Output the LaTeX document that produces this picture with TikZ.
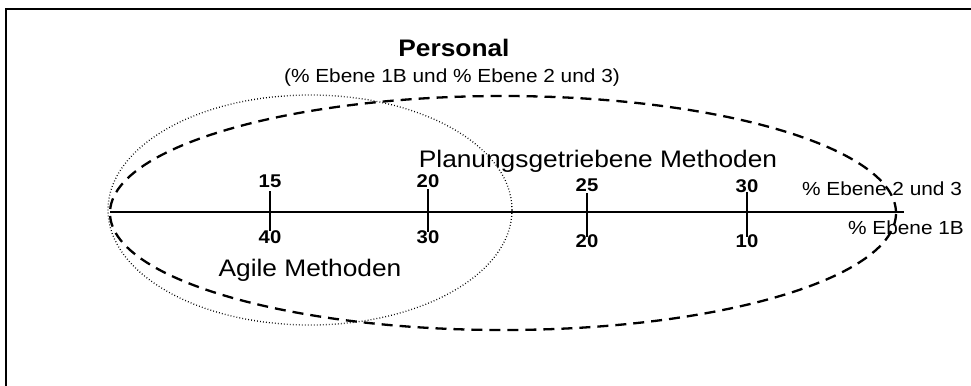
\documentclass[tikz,border=0pt]{standalone}
\usepackage{fontspec}
\setmainfont{Liberation Sans}
% slightly widened lettering
\newcommand{\stretchx}[1]{\scalebox{1.1}[1]{#1}}
\begin{document}
\begin{tikzpicture}[x=1bp,y=-1bp,
  lbl/.style={inner sep=0pt, anchor=base},
  bigtext/.style={lbl, font=\fontsize{24}{28}\selectfont},
  titletext/.style={lbl, font=\bfseries\fontsize{24}{28}\selectfont},
  smalltext/.style={lbl, font=\fontsize{19}{22}\selectfont},
  ticktext/.style={lbl, font=\bfseries\fontsize{18.5}{20}\selectfont},
  frameline/.style={line width=1.8bp},
  axisline/.style={line width=1.5bp},
  planset/.style={line width=2.3bp, dash pattern=on 11bp off 7bp},
  agileset/.style={line width=1.3bp, dash pattern=on 0.8bp off 2.2bp},
]
\useasboundingbox (0,0) rectangle (971,385);

% frame
\coordinate (fbl) at (6,390);
\coordinate (ftl) at (6,9);
\coordinate (ftr) at (975,9);
\draw[frameline] (fbl) -- (ftl) -- (ftr);

% title
\node[titletext] (title) at (454,56) {\stretchx{Personal}};
\node[smalltext] (subtitle) at (452,82) {\stretchx{(\% Ebene 1B und \% Ebene 2 und 3)}};

% method sets
\draw[agileset] (310,210) ellipse [x radius=202bp, y radius=115bp];
\draw[planset] (503,213) ellipse [x radius=393bp, y radius=117bp];

% axis
\coordinate (a0) at (110,212);
\coordinate (a1) at (904,212);
\draw[axisline] (a0) -- (a1);

% ticks
\foreach \n/\x/\t/\b in {t1/270/191/231, t2/428/189/232, t3/587/193/237, t4/747/192/237}{
  \coordinate (\n top) at (\x,\t);
  \coordinate (\n bot) at (\x,\b);
  \draw[axisline] (\n top) -- (\n bot);
}

% tick labels: upper = % Ebene 2 und 3, lower = % Ebene 1B
\node[ticktext] (u1) at (270,187) {\stretchx{15}};
\node[ticktext] (l1) at (270,243) {\stretchx{40}};
\node[ticktext] (u2) at (428,187) {\stretchx{20}};
\node[ticktext] (l2) at (428,243) {\stretchx{30}};
\node[ticktext] (u3) at (587,191) {\stretchx{25}};
\node[ticktext] (l3) at (587,247) {\stretchx{20}};
\node[ticktext] (u4) at (747,192) {\stretchx{30}};
\node[ticktext] (l4) at (747,247) {\stretchx{10}};

% axis captions
\node[smalltext] (upcap) at (882,195) {\stretchx{\% Ebene 2 und 3}};
\node[smalltext] (lowcap) at (906,234) {\stretchx{\% Ebene 1B}};

% set labels
\node[bigtext] (plan) at (598,167) {\stretchx{Planungsgetriebene Methoden}};
\node[bigtext] (agile) at (310,276) {\stretchx{Agile Methoden}};
\end{tikzpicture}
\end{document}
